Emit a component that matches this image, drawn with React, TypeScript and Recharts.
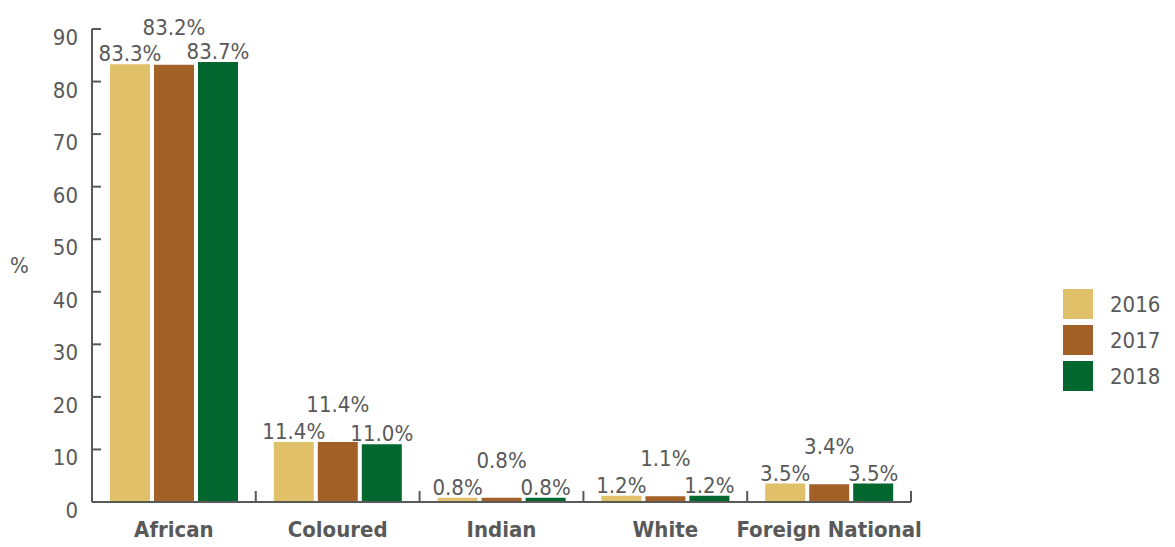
import { BarChart, Bar, XAxis, YAxis, LabelList } from 'recharts';

const categories = ['African', 'Coloured', 'Indian', 'White', 'Foreign National'];
const years = ['2016', '2017', '2018'];
const values2016 = [83.3, 11.4, 0.8, 1.2, 3.5];
const values2017 = [83.2, 11.4, 0.8, 1.1, 3.4];
const values2018 = [83.7, 11.0, 0.8, 1.2, 3.5];
const yTicks = [0, 10, 20, 30, 40, 50, 60, 70, 80, 90];

const colors = ['#E0C16A', '#A36128', '#02672F'];
const ink = '#595959';
const font = "'DejaVu Sans Condensed', 'DejaVu Sans', sans-serif";

const data = categories.map((name, i) => ({
  name,
  '2016': values2016[i],
  '2017': values2017[i],
  '2018': values2018[i],
}));

const fmt = (v: number) => `${v.toFixed(1)}%`;

// y ticks point into the plot, labels hang just below the tick line
function YTick(props: any) {
  const { x, y, payload } = props;
  return (
    <g>
      <line x1={x + 14} x2={x + 23} y1={y} y2={y} stroke={ink} strokeWidth={2} />
      <text x={x} y={y} dy={16} textAnchor="end" fill={ink} fontSize={22} fontFamily={font}>
        {payload.value}
      </text>
    </g>
  );
}

// x ticks sit on category boundaries and point upward
function XTick(props: any) {
  const { x, y, payload, index, visibleTicksCount } = props;
  const half = payload.offset || 81.9;
  const axisY = y - 19;
  return (
    <g>
      <line x1={x - half} x2={x - half} y1={axisY - 11} y2={axisY} stroke={ink} strokeWidth={2} />
      {index === visibleTicksCount - 1 && (
        <line x1={x + half} x2={x + half} y1={axisY - 11} y2={axisY} stroke={ink} strokeWidth={2} />
      )}
      <text x={x} y={y} dy={16} textAnchor="middle" fill={ink} fontSize={22} fontWeight="bold" fontFamily={font}>
        {payload.value}
      </text>
    </g>
  );
}

function LegendBox() {
  return (
    <div style={{ position: 'absolute', left: 1063, top: 289, fontFamily: font, fontSize: 22, color: ink }}>
      {years.map((y, i) => (
        <div key={y} style={{ display: 'flex', alignItems: 'center', height: 30, marginBottom: 6 }}>
          <div style={{ width: 30, height: 30, background: colors[i], marginRight: 17 }} />
          <span>{y}</span>
        </div>
      ))}
    </div>
  );
}

export default function App() {
  return (
    <div style={{ position: 'absolute', left: 0, top: 0, width: 1175, height: 547, background: '#fff' }}>
      <BarChart
        width={1175}
        height={547}
        data={data}
        margin={{ top: 29, right: 264, left: 0, bottom: 0 }}
        barCategoryGap={18}
        barGap={4}
      >
        <YAxis
          width={92}
          domain={[0, 90]}
          ticks={yTicks}
          interval={0}
          tickSize={0}
          tickMargin={14}
          axisLine={{ stroke: ink, strokeWidth: 2 }}
          tickLine={false}
          tick={<YTick />}
          label={{ value: '%', position: 'insideLeft', offset: 10, fill: ink, fontSize: 22, fontFamily: font }}
        />
        <XAxis
          dataKey="name"
          height={45}
          interval={0}
          tickSize={0}
          tickMargin={19}
          axisLine={{ stroke: ink, strokeWidth: 2 }}
          tickLine={false}
          tick={<XTick />}
        />
        {years.map((y, i) => (
          <Bar key={y} dataKey={y} fill={colors[i]} isAnimationActive={false}>
            <LabelList
              dataKey={y}
              position="top"
              offset={i === 1 ? 30 : 3}
              formatter={(v: any) => fmt(Number(v))}
              fill={ink}
              fontSize={22}
              fontFamily={font}
            />
          </Bar>
        ))}
      </BarChart>
      <LegendBox />
    </div>
  );
}
